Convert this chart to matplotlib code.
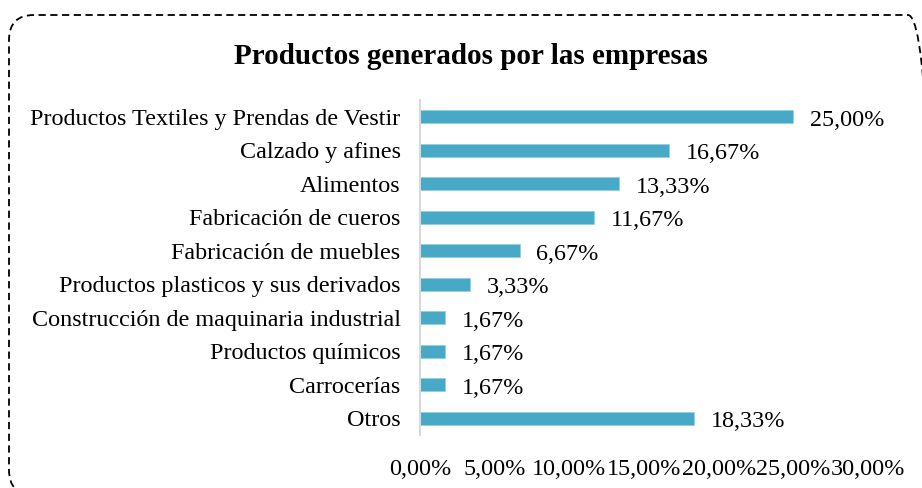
import matplotlib
matplotlib.use("Agg")
import matplotlib.pyplot as plt
from matplotlib.patches import FancyBboxPatch
from matplotlib.ticker import FuncFormatter

categories = [
    "Productos Textiles y Prendas de Vestir",
    "Calzado y afines",
    "Alimentos",
    "Fabricación de cueros",
    "Fabricación de muebles",
    "Productos plasticos y sus derivados",
    "Construcción de maquinaria industrial",
    "Productos químicos",
    "Carrocerías",
    "Otros",
]
values = [25.00, 16.67, 13.33, 11.67, 6.67, 3.33, 1.67, 1.67, 1.67, 18.33]
xticks = [0, 5, 10, 15, 20, 25, 30]
title = "Productos generados por las empresas"

plt.rcParams['font.family'] = ['Liberation Serif', 'DejaVu Serif']

W, H = 922, 488
fig = plt.figure(figsize=(W / 100, H / 100), dpi=100)

# background axes in pixel coordinates (y up) for the dashed rounded border
bg = fig.add_axes([0, 0, 1, 1])
bg.set_xlim(0, W)
bg.set_ylim(0, H)
bg.axis('off')
left, top, right, bottom = 9, 15, 933, 495
border = FancyBboxPatch((left, H - bottom), right - left, bottom - top,
                        boxstyle="round,pad=0,rounding_size=25",
                        fill=False, edgecolor='black', linewidth=1.3,
                        linestyle=(0, (4, 2.5)), clip_on=False)
bg.add_patch(border)

ax = fig.add_axes([420 / W, 1 - 435 / H, (868 - 420) / W, (435 - 100) / H])
ypos = list(range(len(categories)))
ax.barh(ypos, values, height=0.4, color='#47a9c5', edgecolor='#8fd0e3', linewidth=0.6)
ax.set_ylim(len(categories) - 0.5, -0.5)
ax.set_xlim(0, 30)
ax.set_yticks(ypos)
ax.set_yticklabels(categories, fontsize=17.4)
ax.set_xticks(xticks)
ax.xaxis.set_major_formatter(FuncFormatter(lambda v, p: f"{v:.2f}".replace('.', ',') + "%"))
ax.tick_params(axis='x', labelsize=17.4, length=0, pad=17)
ax.tick_params(axis='y', length=0, pad=14)
for s in ['top', 'right', 'bottom']:
    ax.spines[s].set_visible(False)
ax.spines['left'].set_color('#d9d9d9')
ax.spines['left'].set_linewidth(1.5)

for y, v in zip(ypos, values):
    ax.annotate(f"{v:.2f}".replace('.', ',') + "%", (v, y), xytext=(12, -2.5),
                textcoords='offset points', va='center', ha='left', fontsize=17.4)

fig.text(471 / W, 1 - 56 / H, title, ha='center', va='center', fontsize=21, fontweight='bold')

fig.savefig("out.png", dpi=100)
